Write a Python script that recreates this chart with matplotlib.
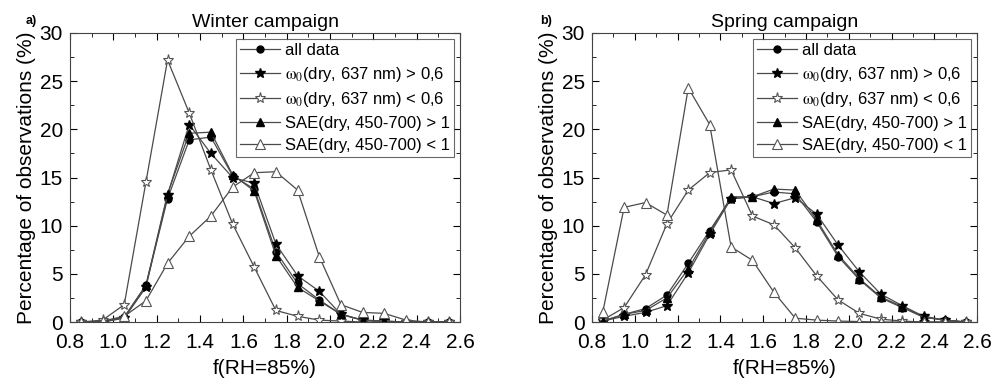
import matplotlib
matplotlib.use("Agg")
import matplotlib.pyplot as plt
from matplotlib.ticker import MultipleLocator

plt.rcParams['font.family'] = ['Liberation Sans', 'DejaVu Sans']
plt.rcParams['mathtext.fontset'] = 'stix'

# bin centres of f(RH=85%)
frh = [0.85, 0.95, 1.05, 1.15, 1.25, 1.35, 1.45, 1.55, 1.65, 1.75,
       1.85, 1.95, 2.05, 2.15, 2.25, 2.35, 2.45, 2.55]

labels = ["all data",
          r"$\mathrm{ω}_0$(dry, 637 nm) > 0,6",
          r"$\mathrm{ω}_0$(dry, 637 nm) < 0,6",
          "SAE(dry, 450-700) > 1",
          "SAE(dry, 450-700) < 1"]

# Winter campaign
w_all = [0.0, 0.0, 0.5, 3.8, 12.8, 18.9, 19.2, 15.2, 13.8, 7.3, 4.0, 2.3, 0.8, 0.2, 0.05, 0.0, 0.0, 0.0]
w_ssa_hi = [0.0, 0.0, 0.4, 3.6, 13.2, 20.5, 17.5, 15.0, 14.4, 8.1, 4.8, 3.2, 0.8, 0.2, 0.1, 0.0, 0.0, 0.0]
w_ssa_lo = [0.0, 0.2, 1.8, 14.5, 27.2, 21.7, 15.8, 10.2, 5.7, 1.2, 0.6, 0.2, 0.1, 0.0, 0.0, 0.0, 0.0, 0.0]
w_sae_hi = [0.05, 0.0, 0.5, 3.8, 13.3, 19.6, 19.7, 15.3, 13.6, 6.9, 3.6, 2.2, 0.8, 0.2, 0.1, 0.0, 0.05, 0.0]
w_sae_lo = [0.0, 0.1, 0.6, 2.2, 6.1, 8.9, 11.0, 14.0, 15.5, 15.6, 13.7, 6.8, 1.8, 1.0, 0.9, 0.2, 0.0, 0.0]

# Spring campaign
s_all = [0.1, 0.8, 1.4, 2.8, 6.1, 9.5, 12.8, 13.0, 13.5, 13.3, 10.4, 6.8, 4.4, 2.5, 1.5, 0.5, 0.2, 0.0]
s_ssa_hi = [0.1, 0.6, 1.0, 1.7, 5.1, 9.1, 12.8, 13.0, 12.3, 12.9, 11.2, 8.0, 5.2, 2.9, 1.7, 0.6, 0.2, 0.0]
s_ssa_lo = [0.2, 1.5, 4.9, 10.2, 13.7, 15.5, 15.8, 11.0, 10.1, 7.7, 4.8, 2.3, 0.9, 0.3, 0.1, 0.0, 0.0, 0.0]
s_sae_hi = [0.1, 0.8, 1.2, 2.5, 5.5, 9.3, 13.0, 13.0, 13.8, 13.7, 10.6, 7.0, 4.5, 2.6, 1.6, 0.5, 0.2, 0.0]
s_sae_lo = [1.0, 11.9, 12.4, 11.1, 24.3, 20.5, 7.8, 6.4, 3.1, 0.4, 0.2, 0.1, 0.05, 0.0, 0.0, 0.0, 0.0, 0.0]

styles = [dict(marker="o", mfc="black", mec="black", ms=5),
          dict(marker="*", mfc="black", mec="black", ms=7),
          dict(marker="*", mfc="white", mec="#555555", ms=8, mew=0.8),
          dict(marker="^", mfc="black", mec="black", ms=6),
          dict(marker="^", mfc="white", mec="#555555", ms=7, mew=0.8)]

fig = plt.figure(figsize=(9.95, 3.88), dpi=100)
ax1 = fig.add_axes([0.0704, 0.170, 0.392, 0.745])
ax2 = fig.add_axes([0.595, 0.170, 0.387, 0.745])

panels = [(ax1, "Winter campaign", "a)", -0.115, [w_all, w_ssa_hi, w_ssa_lo, w_sae_hi, w_sae_lo]),
          (ax2, "Spring campaign", "b)", -0.135, [s_all, s_ssa_hi, s_ssa_lo, s_sae_hi, s_sae_lo])]

for ax, title, tag, tagx, series in panels:
    for ys, lab, st in zip(series, labels, styles):
        ax.plot(frh, ys, color="#4a4a4a", lw=0.9, label=lab, **st)
    ax.set_xlim(0.8, 2.6)
    ax.set_ylim(0, 30)
    ax.xaxis.set_major_locator(MultipleLocator(0.2))
    ax.xaxis.set_minor_locator(MultipleLocator(0.1))
    ax.yaxis.set_major_locator(MultipleLocator(5))
    ax.yaxis.set_minor_locator(MultipleLocator(2.5))
    ax.tick_params(which="both", direction="in", top=True, right=True, labelsize=15)
    ax.tick_params(axis="x", pad=8)
    ax.tick_params(axis="y", pad=5)
    ax.tick_params(which="major", length=5)
    ax.tick_params(which="minor", length=3)
    for sp in ax.spines.values():
        sp.set_color("#444444")
    ax.set_xlabel("f(RH=85%)", fontsize=15, labelpad=5)
    ax.set_ylabel("Percentage of observations (%)", fontsize=15, labelpad=3)
    ax.set_title(title, fontsize=14, pad=4)
    ax.text(tagx, 1.03, tag, transform=ax.transAxes, fontsize=9, fontweight="bold")
    leg = ax.legend(loc="upper right", fontsize=12, frameon=True, fancybox=False,
                    borderaxespad=0.35, handlelength=2.4, handletextpad=0.3,
                    labelspacing=0.4, borderpad=0.25)
    leg.get_frame().set_edgecolor("#444444")
    leg.get_frame().set_linewidth(0.8)

fig.savefig("out.png", dpi=100)
